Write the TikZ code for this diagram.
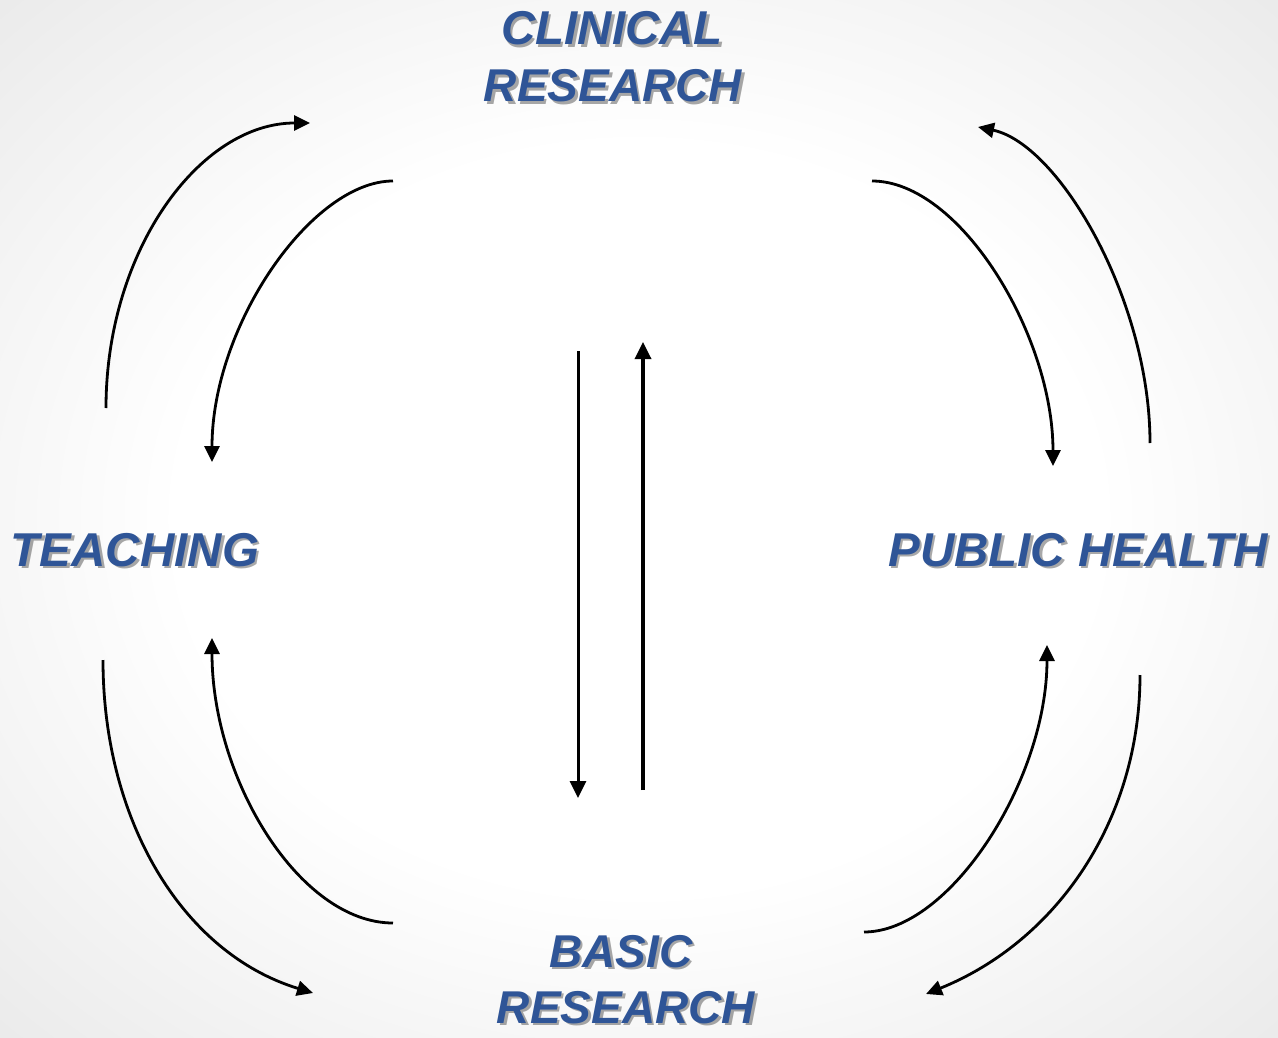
\documentclass[tikz,border=0pt]{standalone}
\usepackage{fontspec}
\setmainfont{Liberation Sans}
\usetikzlibrary{arrows.meta}
\definecolor{labelblue}{HTML}{2F5597}
\definecolor{bgedge}{HTML}{EAEAEA}
\pgfdeclareradialshading{softvignette}{\pgfpoint{0bp}{0bp}}{color(0bp)=(white); color(18bp)=(white); color(36bp)=(bgedge); color(50bp)=(bgedge)}
% a label with a drop shadow: name, anchor point, size, text
\newcommand{\castlabel}[4]{%
  \node[lbl,text=black,opacity=0.34,xshift=2.5pt,yshift=-2.5pt,font=\fontsize{#3}{#3}\selectfont\bfseries\itshape] (#1-s) at (#2) {#4};
  \node[lbl,font=\fontsize{#3}{#3}\selectfont\bfseries\itshape] (#1) at (#2) {#4};}
\begin{document}
\begin{tikzpicture}[x=1pt,y=-1pt,
  lbl/.style={text=labelblue, inner sep=0pt, anchor=base},
  link/.style={line width=2.8pt, -{Triangle[length=16pt,width=15pt]}},
  flow/.style={line width=3.4pt, -{Triangle[length=17pt,width=16pt]}}]
\useasboundingbox (0,0) rectangle (1278,1038);
\shade[shading=softvignette] (0,0) rectangle (1278,1038);

% labels
\castlabel{clin}{612,45}{47.5}{CLINICAL}
\castlabel{clinb}{613,102}{46}{RESEARCH}
\castlabel{teach}{135,566}{47.5}{TEACHING}
\castlabel{pub}{1078,566}{47.5}{PUBLIC HEALTH}
\castlabel{basic}{621,967}{46}{BASIC}
\castlabel{basicb}{626,1023}{46}{RESEARCH}

% end points of the connectors
\coordinate (tlo-a) at (106,408);  \coordinate (tlo-b) at (310,123);
\coordinate (tli-a) at (393,181);  \coordinate (tli-b) at (212,462);
\coordinate (tri-a) at (872,181);  \coordinate (tri-b) at (1053,466);
\coordinate (tro-a) at (1150,443); \coordinate (tro-b) at (978,127);
\coordinate (blo-a) at (103,660);  \coordinate (blo-b) at (313,993);
\coordinate (bli-a) at (393,923);  \coordinate (bli-b) at (212,638);
\coordinate (bri-a) at (864,932);  \coordinate (bri-b) at (1047,645);
\coordinate (bro-a) at (1140,675); \coordinate (bro-b) at (926,994);
\coordinate (down-a) at (578,351); \coordinate (down-b) at (578,798);
\coordinate (up-a) at (643,790);   \coordinate (up-b) at (643,342);

% curved links
\draw[link] (tlo-a) .. controls (106,250) and (200,123) .. (tlo-b);
\draw[link] (tli-a) .. controls (312,181) and (212,325) .. (tli-b);
\draw[link] (tri-a) .. controls (960,181) and (1053,335) .. (tri-b);
\draw[link] (tro-a) .. controls (1150,300) and (1059,144) .. (tro-b);
\draw[link] (blo-a) .. controls (103,820) and (182,953) .. (blo-b);
\draw[link] (bli-a) .. controls (300,923) and (212,780) .. (bli-b);
\draw[link] (bri-a) .. controls (950,932) and (1047,780) .. (bri-b);
\draw[link] (bro-a) .. controls (1140,820) and (1057,941) .. (bro-b);

% straight links in the middle
\draw[flow, line width=3pt] (down-a) -- (down-b);
\draw[flow] (up-a) -- (up-b);
\end{tikzpicture}
\end{document}
